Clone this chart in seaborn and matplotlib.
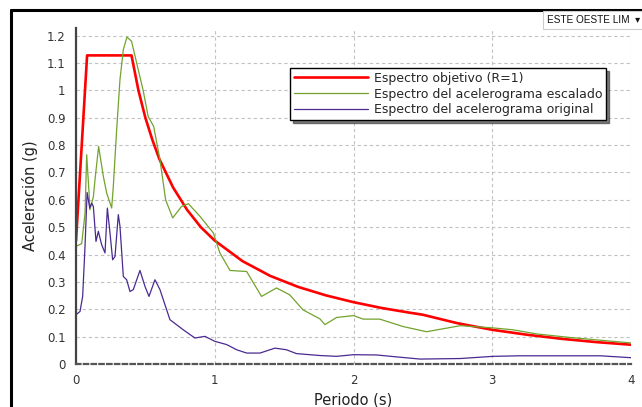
import matplotlib
matplotlib.use("Agg")
import matplotlib.pyplot as plt
from matplotlib.lines import Line2D
from matplotlib.ticker import MultipleLocator, FuncFormatter
import seaborn as sns
import pandas as pd

# ---- data ----
periodo_obj = [0.0, 0.08, 0.40, 0.45, 0.50, 0.55, 0.60, 0.70, 0.80, 0.90, 1.00, 1.20, 1.40,
               1.60, 1.80, 2.00, 2.20, 2.40, 2.50, 2.75, 3.00, 3.25, 3.50, 3.75, 4.00]
acel_obj = [0.45, 1.128, 1.128, 1.00, 0.90, 0.82, 0.75, 0.645, 0.564, 0.50, 0.451, 0.376, 0.322,
            0.282, 0.251, 0.226, 0.205, 0.188, 0.180, 0.149, 0.125, 0.107, 0.092, 0.080, 0.0705]

periodo_esc = [0.0, 0.041, 0.065, 0.077, 0.094, 0.10, 0.125, 0.137, 0.163, 0.197, 0.221, 0.257,
               0.269, 0.293, 0.317, 0.341, 0.367, 0.40, 0.484, 0.52, 0.56, 0.605, 0.646, 0.697,
               0.761, 0.81, 0.893, 0.99, 1.037, 1.11, 1.23, 1.337, 1.445, 1.54, 1.636, 1.758,
               1.794, 1.878, 2.0, 2.07, 2.19, 2.357, 2.526, 2.77, 3.006, 3.15, 3.32, 3.56, 3.80, 4.0]
acel_esc = [0.43, 0.44, 0.55, 0.765, 0.625, 0.564, 0.61, 0.674, 0.795, 0.686, 0.625, 0.57,
            0.65, 0.856, 1.04, 1.149, 1.195, 1.18, 1.00, 0.905, 0.868, 0.747, 0.60, 0.534,
            0.576, 0.586, 0.54, 0.479, 0.406, 0.342, 0.338, 0.247, 0.278, 0.253, 0.198, 0.165,
            0.144, 0.170, 0.177, 0.164, 0.164, 0.137, 0.118, 0.140, 0.132, 0.125, 0.110, 0.097, 0.086, 0.077]

periodo_ori = [0.0, 0.029, 0.048, 0.065, 0.08, 0.099, 0.113, 0.125, 0.144, 0.161, 0.185, 0.209,
               0.226, 0.245, 0.264, 0.281, 0.305, 0.317, 0.341, 0.365, 0.389, 0.413, 0.461,
               0.497, 0.526, 0.569, 0.605, 0.677, 0.773, 0.857, 0.929, 1.0, 1.086, 1.158, 1.23,
               1.326, 1.434, 1.517, 1.589, 1.758, 1.878, 2.0, 2.167, 2.31, 2.48, 2.77, 3.006,
               3.2, 3.78, 4.0]
acel_ori = [0.18, 0.192, 0.247, 0.43, 0.627, 0.57, 0.588, 0.576, 0.448, 0.485, 0.436, 0.406,
            0.57, 0.479, 0.381, 0.393, 0.546, 0.503, 0.32, 0.308, 0.265, 0.272, 0.342,
            0.284, 0.247, 0.308, 0.272, 0.162, 0.125, 0.095, 0.101, 0.083, 0.071, 0.052, 0.040,
            0.040, 0.058, 0.052, 0.038, 0.031, 0.028, 0.034, 0.033, 0.026, 0.018, 0.020, 0.028,
            0.030, 0.030, 0.023]

labels = ["Espectro objetivo (R=1)",
          "Espectro del acelerograma escalado",
          "Espectro del acelerograma original"]
colors = ["#ff0000", "#72a32c", "#4a2a90"]
widths = [1.9, 0.9, 0.9]

df = pd.concat([
    pd.DataFrame({"Periodo": periodo_obj, "Acel": acel_obj, "Serie": labels[0]}),
    pd.DataFrame({"Periodo": periodo_esc, "Acel": acel_esc, "Serie": labels[1]}),
    pd.DataFrame({"Periodo": periodo_ori, "Acel": acel_ori, "Serie": labels[2]}),
], ignore_index=True)

sns.set_style("white")
plt.rcParams["font.family"] = ["DejaVu Sans"]

fig = plt.figure(figsize=(6.42, 4.07), dpi=100)
ax = fig.add_axes([76 / 642, 1 - 364 / 407, 555 / 642, 336.5 / 407])

for lab, col, lw in zip(labels, colors, widths):
    sub = df[df["Serie"] == lab]
    sns.lineplot(data=sub, x="Periodo", y="Acel", ax=ax, color=col, linewidth=lw,
                 label=lab, sort=False, estimator=None)

ax.set_xlim(0, 4)
ax.set_ylim(0, 1.23)
ax.xaxis.set_major_locator(MultipleLocator(1))
ax.xaxis.set_minor_locator(MultipleLocator(0.25))
ax.yaxis.set_major_locator(MultipleLocator(0.1))
ax.yaxis.set_minor_locator(MultipleLocator(0.05))
ax.yaxis.set_major_formatter(FuncFormatter(lambda v, p: f"{v:.1f}".rstrip("0").rstrip(".") if v > 1e-9 else "0"))
ax.xaxis.set_major_formatter(FuncFormatter(lambda v, p: f"{v:g}"))
ax.set_ylim(0, 1.23)

ax.grid(True, which="major", color="#c2c2c2", linestyle=(0, (3, 2.5)), linewidth=0.8)
ax.set_axisbelow(True)
for s in ["top", "right"]:
    ax.spines[s].set_visible(False)
ax.spines["left"].set_color("#444444")
ax.spines["left"].set_linewidth(1.6)
ax.spines["bottom"].set_color("#555555")
ax.spines["bottom"].set_linewidth(1.6)
ax.spines["bottom"].set_linestyle((0, (2, 1.5)))

ax.tick_params(axis="both", which="major", direction="out", length=4, width=0.8,
               colors="#555555", labelcolor="#333333", labelsize=8.5)
ax.tick_params(axis="both", which="minor", direction="out", length=2, width=0.7, colors="#777777")

ax.set_xlabel("Periodo (s)", fontsize=10.5, color="#222222", labelpad=4)
ax.set_ylabel("Aceleración (g)", fontsize=10.5, color="#222222", labelpad=6)

leg = ax.legend(loc="upper left", bbox_to_anchor=(0.3856, 0.8796), frameon=True,
                borderaxespad=0.0, fontsize=9, handlelength=5.9, borderpad=0.3,
                labelspacing=0.22, handletextpad=0.5,
                shadow={"ox": 2, "oy": -2, "color": "#444444", "alpha": 0.7},
                fancybox=False)
leg.get_frame().set_edgecolor("#000000")
leg.get_frame().set_linewidth(1.0)

# outer panel frame
fig.add_artist(Line2D([11 / 642, 1.0], [1 - 10 / 407, 1 - 10 / 407], color="black", linewidth=2.2))
fig.add_artist(Line2D([11 / 642, 11 / 642], [0.0, 1 - 10 / 407], color="black", linewidth=2.2))

# selector box at top right
fig.text(547 / 642, 1 - 20 / 407, "ESTE OESTE LIM  \u25be", fontsize=7.2, color="#111111",
         va="center", ha="left", family=["Liberation Sans", "DejaVu Sans"],
         bbox=dict(boxstyle="square,pad=0.4", facecolor="white", edgecolor="#cccccc", linewidth=0.8))

fig.savefig("out.png", dpi=100)
